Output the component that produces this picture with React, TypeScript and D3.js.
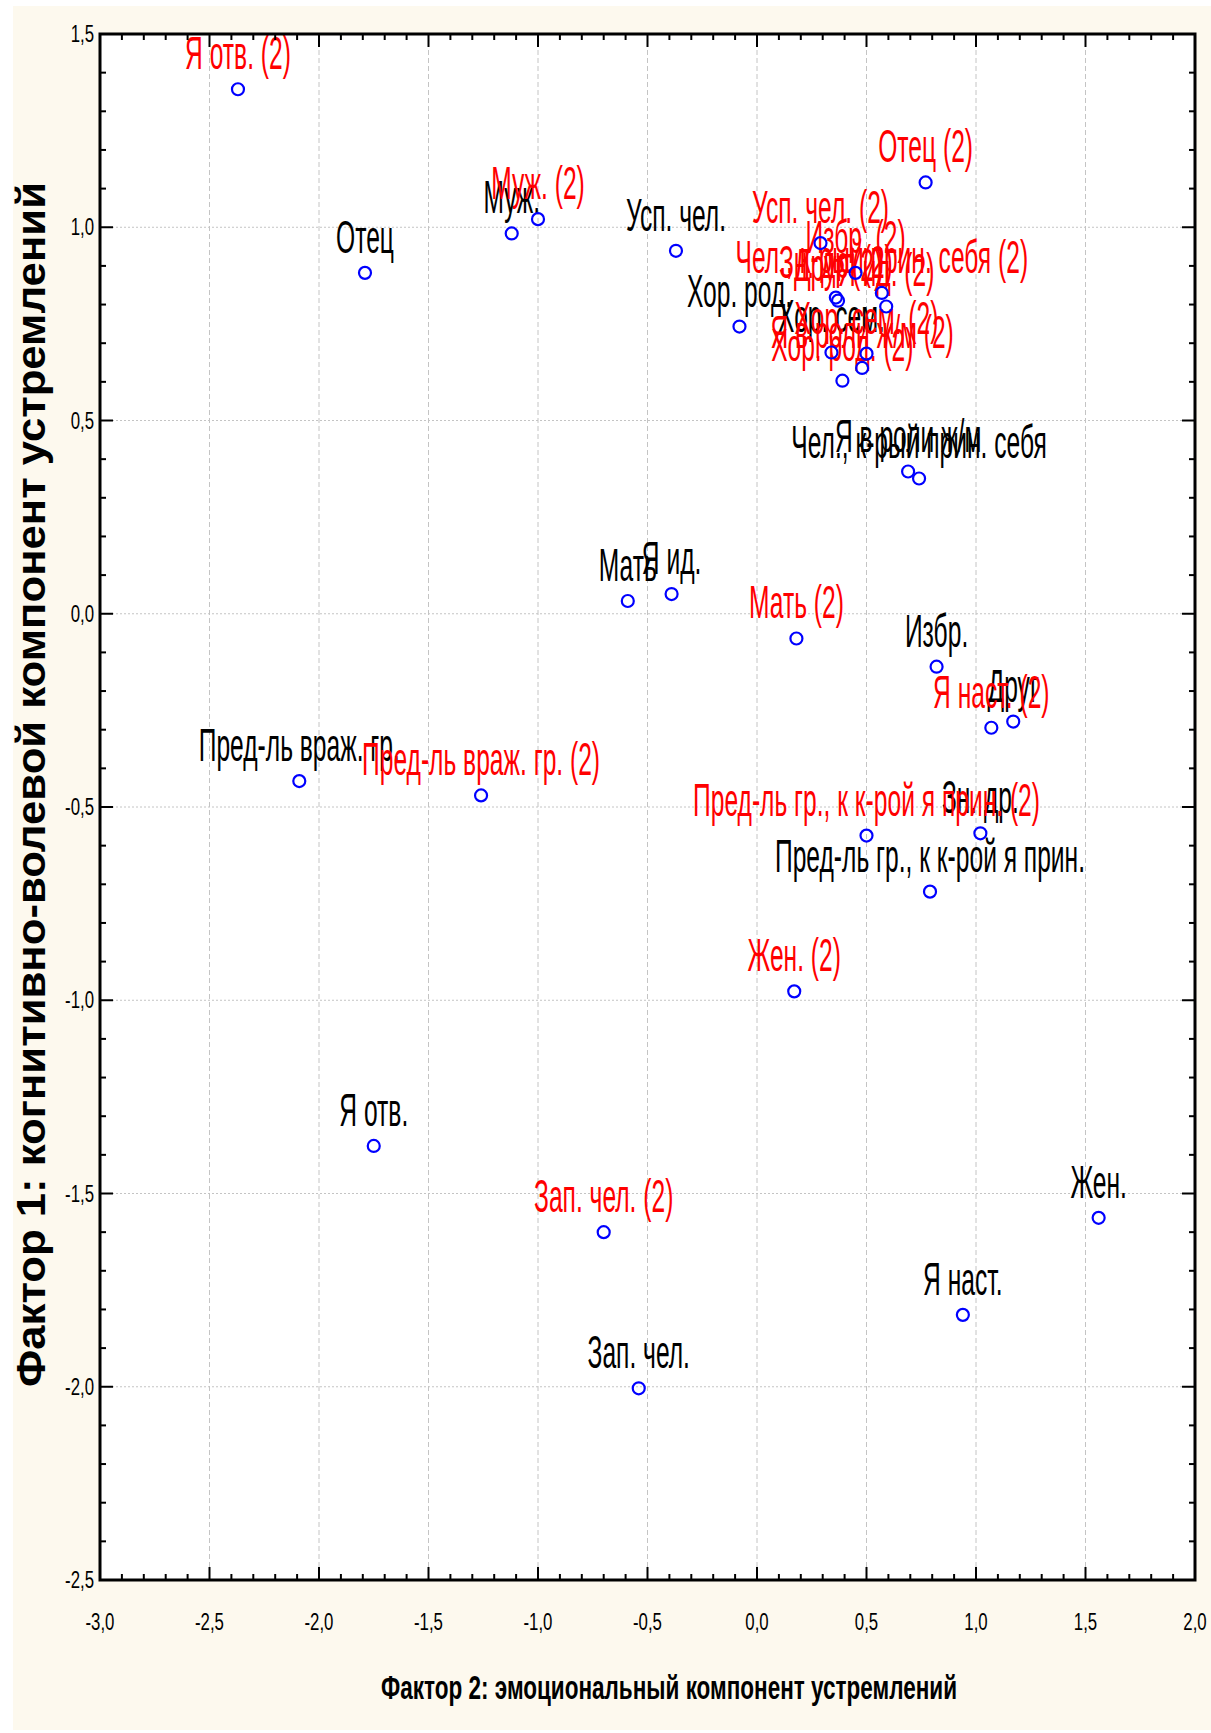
import React from 'react';
import * as d3 from 'd3';

// первая серия (чёрные подписи)
const names1 = [
  'Я отв.', 'Отец', 'Муж.', 'Усп. чел.', 'Хор. род.', 'Хор. сем.', 'Я в роли ж/м',
  'Чел., к-рый прин. себя', 'Мать', 'Я ид.', 'Избр.', 'Друг', 'Пред-ль враж. гр.',
  'Зн. др.', 'Пред-ль гр., к к-рой я прин.', 'Жен.', 'Я наст.', 'Зап. чел.',
];
const f2a = [-1.75, -1.79, -1.12, -0.37, -0.08, 0.34, 0.69, 0.74, -0.59, -0.39, 0.82, 1.17, -2.09, 1.02, 0.79, 1.56, 0.94, -0.54];
const f1a = [-1.377, 0.882, 0.984, 0.939, 0.743, 0.676, 0.368, 0.35, 0.033, 0.051, -0.137, -0.279, -0.433, -0.568, -0.719, -1.563, -1.814, -2.004];

// вторая серия (красные подписи)
const names2 = [
  'Я отв. (2)', 'Отец (2)', 'Муж. (2)', 'Усп. чел. (2)', 'Избр. (2)', 'Чел., к-рый прин. себя  (2)',
  'Зн. др. (2)', 'Друг (2)', 'Я ид. (2)', 'Хор. сем. (2)', 'Я в роли ж/м (2)', 'Хор. род. (2)',
  'Мать (2)', 'Я наст. (2)', 'Пред-ль враж. гр. (2)', 'Пред-ль гр., к к-рой я прин. (2)', 'Жен. (2)', 'Зап. чел. (2)',
];
const f2b = [-2.37, 0.77, -1.0, 0.29, 0.45, 0.57, 0.36, 0.37, 0.59, 0.5, 0.48, 0.39, 0.18, 1.07, -1.26, 0.5, 0.17, -0.7];
const f1b = [1.357, 1.116, 1.021, 0.959, 0.882, 0.83, 0.818, 0.81, 0.795, 0.673, 0.636, 0.603, -0.064, -0.295, -0.47, -0.574, -0.977, -1.6];

const xTicks = [-3, -2.5, -2, -1.5, -1, -0.5, 0, 0.5, 1, 1.5, 2];
const xTickLabels = ['-3,0', '-2,5', '-2,0', '-1,5', '-1,0', '-0,5', '0,0', '0,5', '1,0', '1,5', '2,0'];
const yTicks = [-2.5, -2, -1.5, -1, -0.5, 0, 0.5, 1, 1.5];
const yTickLabels = ['-2,5', '-2,0', '-1,5', '-1,0', '-0,5', '0,0', '0,5', '1,0', '1,5'];

const xTitle = 'Фактор 2: эмоциональный компонент устремлений';
const yTitle = 'Фактор 1: когнитивно-волевой компонент устремлений';

const W = 1211;
const H = 1733;
const font = '"Liberation Sans", Arial, sans-serif';

export default function App() {
  const x = d3.scaleLinear().domain([-3, 2]).range([100, 1195]);
  const y = d3.scaleLinear().domain([-2.5, 1.5]).range([1580, 34]);
  const [x0, x1] = x.range();
  const [y1, y0] = y.range(); // y0 = верх, y1 = низ

  const minorX = d3.range(0, 51).map((i) => -3 + i * 0.1);
  const minorY = d3.range(0, 41).map((i) => -2.5 + i * 0.1);

  const label = (txt, px, py, color, key) => (
    <text
      key={key}
      transform={`translate(${x(px)},${y(py) - 20}) scale(0.535,1)`}
      textAnchor="middle"
      fontSize={46}
      fill={color}
    >
      {txt}
    </text>
  );

  return (
    <div style={{ position: 'absolute', left: 0, top: 0 }}>
      <svg width={W} height={H} style={{ display: 'block', fontFamily: font }}>
        <rect x={0} y={0} width={W} height={H} fill="#ffffff" />
        <rect x={13} y={6} width={W - 13} height={1724} fill="#fdf9ee" />
        <rect x={x0} y={y0} width={x1 - x0} height={y1 - y0} fill="#ffffff" />

        {/* сетка */}
        {xTicks.slice(1, -1).map((t) => (
          <line key={'gx' + t} x1={x(t)} x2={x(t)} y1={y0} y2={y1} stroke="#c4c4c4" strokeWidth={1} strokeDasharray="5,3" />
        ))}
        {yTicks.slice(1, -1).map((t) => (
          <line key={'gy' + t} x1={x0} x2={x1} y1={y(t)} y2={y(t)} stroke="#c4c4c4" strokeWidth={1} strokeDasharray="2,2" />
        ))}

        {/* подписи точек */}
        {names1.map((n, i) => label(n, f2a[i], f1a[i], '#000000', 'a' + i))}
        {names2.map((n, i) => label(n, f2b[i], f1b[i], '#ff0000', 'b' + i))}

        {/* точки */}
        {names1.map((n, i) => (
          <circle key={'ca' + i} cx={x(f2a[i])} cy={y(f1a[i])} r={6} fill="none" stroke="#0000ff" strokeWidth={2.2} />
        ))}
        {names2.map((n, i) => (
          <circle key={'cb' + i} cx={x(f2b[i])} cy={y(f1b[i])} r={6} fill="none" stroke="#0000ff" strokeWidth={2.2} />
        ))}

        {/* засечки */}
        <g stroke="#000" strokeWidth={2}>
          {minorX.map((t, i) => {
            const len = i % 5 === 0 ? 13 : 6;
            return (
              <g key={'tx' + i}>
                <line x1={x(t)} x2={x(t)} y1={y1} y2={y1 - len} />
                <line x1={x(t)} x2={x(t)} y1={y0} y2={y0 + len} />
              </g>
            );
          })}
          {minorY.map((t, i) => {
            const len = i % 5 === 0 ? 13 : 6;
            return (
              <g key={'ty' + i}>
                <line x1={x0} x2={x0 + len} y1={y(t)} y2={y(t)} />
                <line x1={x1} x2={x1 - len} y1={y(t)} y2={y(t)} />
              </g>
            );
          })}
        </g>
        <rect x={x0} y={y0} width={x1 - x0} height={y1 - y0} fill="none" stroke="#000" strokeWidth={3} />

        {/* подписи осей */}
        {xTicks.map((t, i) => (
          <text key={'lx' + i} transform={`translate(${x(t)},1630) scale(0.7,1)`} textAnchor="middle" fontSize={24} fill="#000">
            {xTickLabels[i]}
          </text>
        ))}
        {yTicks.map((t, i) => (
          <text key={'ly' + i} transform={`translate(94,${y(t) + 8}) scale(0.7,1)`} textAnchor="end" fontSize={24} fill="#000">
            {yTickLabels[i]}
          </text>
        ))}

        <text x={669} y={1699} textAnchor="middle" fontSize={34} fontWeight="bold" textLength={576} lengthAdjust="spacingAndGlyphs">
          {xTitle}
        </text>
        <text
          transform="translate(45,784.5) rotate(-90)"
          textAnchor="middle"
          fontSize={41}
          fontWeight="bold"
          textLength={1205}
          lengthAdjust="spacingAndGlyphs"
        >
          {yTitle}
        </text>
      </svg>
    </div>
  );
}
